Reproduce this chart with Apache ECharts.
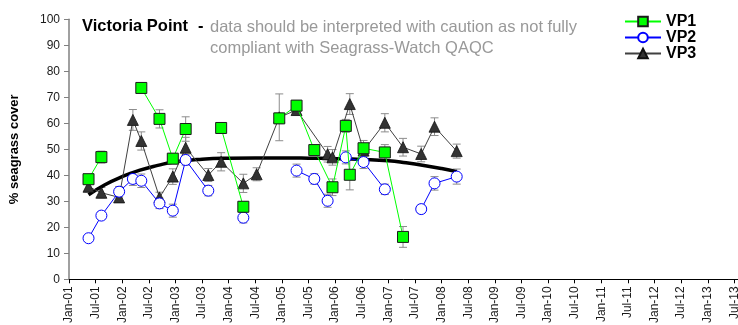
<!DOCTYPE html>
<html>
<head>
<meta charset="utf-8">
<script src="https://cdn.jsdelivr.net/npm/echarts@6/dist/echarts.min.js"></script>
<style>
  html, body { margin: 0; padding: 0; background: #ffffff; }
  #chart { width: 738px; height: 325px; }
</style>
</head>
<body>
<div id="chart"></div>
<script>
// Half-year tick names on the date axis
const tickMonths = ['Jan', 'Jul'];

// VP1 – monitoring dates, % cover and standard error (null = no survey, line breaks)
const vp1Dates = ['2001-05-13','2001-08-10','2001-12-10','2002-05-10','2002-09-13','2002-12-13','2003-03-10','2003-08-13','2003-11-10','2004-04-10','2004-07-10','2004-12-13','2005-04-10','2005-08-10','2005-12-13','2006-03-13','2006-04-10','2006-07-13','2006-12-07','2007-04-10'];
const vp1Cover = [38.5, 47.0, null, 73.6, 61.7, 46.4, 57.8, null, 58.2, 27.9, null, 61.9, 66.8, 49.7, 35.4, 59.0, 40.2, 50.4, 48.8, 16.3];
const vp1Err   = [1.5, 2.3, null, 1.5, 3.5, 2.0, 4.7, null, 2.0, 2.0, null, 2.0, 2.0, 1.5, 3.2, 2.5, 5.8, 3.0, 3.0, 4.0];

// VP2
const vp2Dates = ['2001-05-13','2001-08-10','2001-12-10','2002-03-13','2002-05-10','2002-09-13','2002-12-13','2003-03-10','2003-08-13','2003-11-10','2004-04-10','2004-12-13','2005-04-10','2005-08-10','2005-11-10','2005-12-13','2006-03-13','2006-07-13','2006-12-07','2007-04-10','2007-08-13','2007-11-13','2008-04-13'];
const vp2Cover = [15.8, 24.5, 33.7, 38.6, 37.9, 29.2, 26.4, 45.9, 34.1, null, 23.7, null, 41.8, 38.6, 30.2, null, 46.9, 45.1, 34.6, null, 27.0, 36.9, 39.5];
const vp2Err   = [1.0, 1.5, 2.0, 2.5, 2.6, 2.0, 2.5, 2.0, 2.0, null, 2.0, null, 2.5, 2.0, 2.5, null, 2.5, 2.5, 2.0, null, 1.5, 2.6, 2.9];

// VP3
const vp3Dates = ['2001-05-13','2001-08-10','2001-12-10','2002-03-13','2002-05-10','2002-09-13','2002-12-13','2003-03-10','2003-08-13','2003-11-10','2004-04-10','2004-07-10','2004-12-13','2005-04-10','2005-11-10','2005-12-13','2006-04-10','2006-07-13','2006-12-07','2007-04-10','2007-08-13','2007-11-13','2008-04-13'];
const vp3Cover = [35.6, 33.3, 31.5, 61.3, 53.2, 31.5, 39.5, 50.6, 40.1, 45.2, 36.9, 40.4, 62.3, 65.1, 48.1, 46.9, 67.4, 49.5, 60.2, 50.8, 48.2, 58.7, 49.3];
const vp3Err   = [2.0, 2.0, 1.5, 4.0, 3.5, 2.0, 3.0, 4.0, 2.5, 3.5, 3.5, 2.5, 9.0, 2.0, 3.0, 3.0, 4.0, 2.5, 3.5, 3.4, 3.0, 3.4, 2.7];

// Site-wide trend curve
const trendDates = ['2001-05-13','2001-09-01','2002-01-01','2002-05-01','2002-09-01','2003-01-01','2003-07-01','2004-01-01','2004-07-01','2005-01-01','2005-07-01','2006-01-01','2006-07-01','2007-01-01','2007-05-01','2007-09-01','2008-01-01','2008-04-13'];
const trendCover = [32.5, 36.3, 39.5, 42.0, 43.8, 45.2, 46.2, 46.6, 46.7, 46.7, 46.6, 46.4, 46.1, 45.6, 44.8, 43.8, 42.6, 41.4];

// months elapsed since Jan 2001
function toMonths(s) {
  const p = s.split('-').map(Number);
  return (p[0] - 2001) * 12 + (p[1] - 1) + (p[2] - 1) / 30;
}
function linePoints(dates, vals) {
  return dates.map((d, i) => [toMonths(d), vals[i] === null ? '-' : vals[i]]);
}
function errPoints(dates, vals, errs) {
  const out = [];
  dates.forEach((d, i) => { if (vals[i] !== null) out.push([toMonths(d), vals[i], errs[i]]); });
  return out;
}

const errColor = '#8c8c8c';
function renderErr(params, api) {
  const x = api.value(0), y = api.value(1), e = api.value(2);
  const hi = api.coord([x, y + e]);
  const lo = api.coord([x, y - e]);
  const hw = 4;
  const st = { stroke: errColor, lineWidth: 1 };
  return {
    type: 'group',
    children: [
      { type: 'line', shape: { x1: hi[0], y1: hi[1], x2: lo[0], y2: lo[1] }, style: st },
      { type: 'line', shape: { x1: hi[0] - hw, y1: hi[1], x2: hi[0] + hw, y2: hi[1] }, style: st },
      { type: 'line', shape: { x1: lo[0] - hw, y1: lo[1], x2: lo[0] + hw, y2: lo[1] }, style: st }
    ]
  };
}

const fontFam = 'Liberation Sans, Arial, sans-serif';
const chart = echarts.init(document.getElementById('chart'));
chart.setOption({
  animation: false,
  backgroundColor: '#ffffff',
  grid: { left: 69, top: 19.3, bottom: 45.7, right: -23, outerBoundsMode: 'none', containLabel: false },
  xAxis: {
    type: 'value',
    min: 0, max: 156, interval: 6,
    axisLine: { lineStyle: { color: '#000000', width: 1 } },
    axisTick: { show: true, length: 4, lineStyle: { color: '#000000' } },
    splitLine: { show: false },
    axisLabel: {
      rotate: 90, margin: 7, color: '#1a1a1a', fontFamily: fontFam, fontSize: 12,
      formatter: v => tickMonths[(v / 6) % 2] + '-' + String(1 + Math.floor(v / 12)).padStart(2, '0')
    }
  },
  yAxis: {
    type: 'value',
    min: 0, max: 100, interval: 10,
    name: '% seagrass cover',
    nameLocation: 'middle', nameRotate: 90, nameGap: 48,
    nameTextStyle: { fontFamily: fontFam, fontWeight: 'bold', fontSize: 13, color: '#000000' },
    axisLine: { show: true, lineStyle: { color: '#808080', width: 1.5 } },
    axisTick: { show: true, length: 5, lineStyle: { color: '#808080' } },
    splitLine: { show: false },
    axisLabel: { margin: 9, color: '#1a1a1a', fontFamily: fontFam, fontSize: 12 }
  },
  legend: {
    orient: 'vertical', left: 624, top: 13.5, padding: 0,
    itemWidth: 36, itemHeight: 12, itemGap: 0,
    textStyle: { fontFamily: fontFam, fontWeight: 'bold', fontSize: 16, color: '#000000' },
    data: ['VP1', 'VP2', 'VP3']
  },
  graphic: [
    { type: 'text', left: 82, top: 18, style: { text: 'Victoria Point', font: 'bold 16.5px ' + fontFam, fill: '#000000' } },
    { type: 'text', left: 198, top: 18, style: { text: '-', font: 'bold 16.5px ' + fontFam, fill: '#000000' } },
    { type: 'text', left: 210, top: 17, style: { text: 'data should be interpreted with caution as not fully\ncompliant with Seagrass-Watch QAQC', font: '16.5px ' + fontFam, fill: '#999999', lineHeight: 21 } }
  ],
  series: [
    { type: 'custom', name: 'VP1 se', renderItem: renderErr, data: errPoints(vp1Dates, vp1Cover, vp1Err), z: 1, silent: true },
    { type: 'custom', name: 'VP2 se', renderItem: renderErr, data: errPoints(vp2Dates, vp2Cover, vp2Err), z: 1, silent: true },
    { type: 'custom', name: 'VP3 se', renderItem: renderErr, data: errPoints(vp3Dates, vp3Cover, vp3Err), z: 1, silent: true },
    {
      type: 'line', name: 'trend', data: linePoints(trendDates, trendCover), smooth: true,
      showSymbol: false, lineStyle: { color: '#000000', width: 3.5 }, z: 2, silent: true
    },
    {
      type: 'line', name: 'VP3', data: linePoints(vp3Dates, vp3Cover),
      symbol: 'triangle', symbolSize: 11,
      lineStyle: { color: '#404040', width: 1 },
      itemStyle: { color: '#333333', borderColor: '#111111', borderWidth: 0.8 }, z: 3
    },
    {
      type: 'line', name: 'VP2', data: linePoints(vp2Dates, vp2Cover),
      symbol: 'circle', symbolSize: 11,
      lineStyle: { color: '#0000ff', width: 1 },
      itemStyle: { color: '#ffffff', borderColor: '#0000ff', borderWidth: 1 }, z: 4
    },
    {
      type: 'line', name: 'VP1', data: linePoints(vp1Dates, vp1Cover),
      symbol: 'rect', symbolSize: 11,
      lineStyle: { color: '#00ff00', width: 1 },
      itemStyle: { color: '#00ff00', borderColor: '#1a1a1a', borderWidth: 1 }, z: 5
    }
  ]
});
</script>
</body>
</html>
